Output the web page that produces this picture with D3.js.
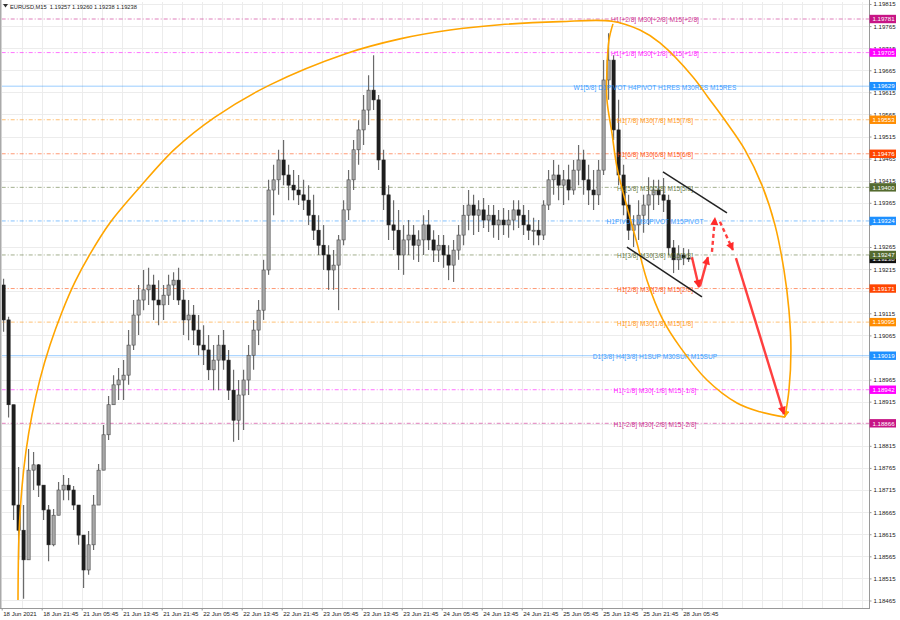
<!DOCTYPE html>
<html><head><meta charset="utf-8">
<script src="https://cdn.jsdelivr.net/npm/d3@7"></script>
<style>
body{margin:0;background:#fff;}
svg{display:block;font-family:"Liberation Sans",Arial,sans-serif;}
</style>
</head><body>
<svg id="chart" width="900" height="620"></svg>
<script>
// ---------------- DATA ----------------
const titleText = "EURUSD,M15  1.19257 1.19260 1.19238 1.19238";
const firstOpen = 1.19179;
// hourly OHLC (open = previous close)
const highs = [1.19193,1.19107,1.18873,1.18767,1.18681,1.18808,1.18801,1.18774,1.18724,1.18681,
1.18672,1.18733,1.18749,1.18742,1.18724,1.18681,1.18613,1.18622,1.18704,1.18774,
1.18862,1.18928,1.18975,1.18991,1.19009,1.19077,1.19145,1.19179,1.19213,1.19218,
1.19202,1.19190,1.19179,1.19202,1.19208,1.19218,1.19168,1.19145,1.19134,1.19111,
1.19088,1.19066,1.19043,1.19066,1.19077,1.19032,1.18987,1.18964,1.18987,1.19043,
1.19100,1.19145,1.19236,1.19417,1.19451,1.19485,1.19507,1.19451,1.19439,1.19428,
1.19417,1.19405,1.19383,1.19337,1.19315,1.19269,1.19258,1.19292,1.19371,1.19439,
1.19507,1.19552,1.19609,1.19654,1.19699,1.19609,1.19485,1.19405,1.19371,1.19349,
1.19315,1.19326,1.19315,1.19303,1.19337,1.19349,1.19303,1.19292,1.19292,1.19269,
1.19281,1.19315,1.19360,1.19394,1.19383,1.19371,1.19376,1.19360,1.19360,1.19349,
1.19353,1.19349,1.19371,1.19371,1.19360,1.19349,1.19331,1.19326,1.19371,1.19439,
1.19462,1.19451,1.19439,1.19451,1.19462,1.19496,1.19485,1.19451,1.19439,1.19462,
1.19688,1.19749,1.19699,1.19598,1.19451,1.19383,1.19337,1.19371,1.19383,1.19423,
1.19417,1.19417,1.19421,1.19383,1.19281,1.19269,1.19263,1.19260];
const lows = [1.19073,1.18879,1.18647,1.18557,1.18469,1.18557,1.18715,1.18699,1.18647,1.18554,
1.18588,1.18665,1.18692,1.18692,1.18670,1.18591,1.18493,1.18523,1.18579,1.18692,
1.18760,1.18828,1.18908,1.18919,1.18919,1.18953,1.19032,1.19066,1.19122,1.19134,
1.19100,1.19088,1.19100,1.19134,1.19145,1.19134,1.19066,1.19054,1.19043,1.19020,
1.18998,1.18964,1.18941,1.18941,1.18987,1.18919,1.18824,1.18828,1.18851,1.18930,
1.18987,1.19043,1.19100,1.19202,1.19337,1.19383,1.19405,1.19371,1.19371,1.19360,
1.19349,1.19315,1.19281,1.19247,1.19213,1.19168,1.19168,1.19122,1.19269,1.19326,
1.19394,1.19451,1.19496,1.19541,1.19575,1.19439,1.19349,1.19281,1.19258,1.19213,
1.19202,1.19247,1.19236,1.19231,1.19247,1.19258,1.19231,1.19231,1.19218,1.19190,
1.19186,1.19236,1.19269,1.19303,1.19292,1.19299,1.19308,1.19299,1.19286,1.19281,
1.19292,1.19286,1.19303,1.19308,1.19292,1.19281,1.19269,1.19269,1.19281,1.19349,
1.19383,1.19371,1.19360,1.19371,1.19383,1.19405,1.19383,1.19360,1.19349,1.19360,
1.19428,1.19598,1.19507,1.19405,1.19337,1.19281,1.19265,1.19281,1.19297,1.19315,
1.19349,1.19360,1.19344,1.19247,1.19206,1.19213,1.19224,1.19231];
const closes = [1.19100,1.18908,1.18681,1.18624,1.18557,1.18760,1.18772,1.18726,1.18670,1.18591,
1.18658,1.18715,1.18726,1.18715,1.18681,1.18613,1.18534,1.18591,1.18681,1.18760,
1.18840,1.18908,1.18953,1.18964,1.18975,1.19043,1.19111,1.19145,1.19168,1.19179,
1.19145,1.19134,1.19156,1.19179,1.19190,1.19145,1.19100,1.19111,1.19077,1.19043,
1.19032,1.18987,1.19009,1.19043,1.19009,1.18941,1.18873,1.18930,1.18964,1.19020,
1.19077,1.19122,1.19213,1.19394,1.19417,1.19462,1.19428,1.19405,1.19394,1.19383,
1.19371,1.19337,1.19303,1.19269,1.19247,1.19213,1.19224,1.19281,1.19349,1.19417,
1.19485,1.19530,1.19575,1.19620,1.19598,1.19462,1.19383,1.19315,1.19303,1.19247,
1.19281,1.19292,1.19269,1.19281,1.19315,1.19281,1.19258,1.19269,1.19247,1.19224,
1.19258,1.19292,1.19337,1.19360,1.19337,1.19349,1.19326,1.19337,1.19315,1.19326,
1.19315,1.19326,1.19349,1.19337,1.19315,1.19303,1.19303,1.19292,1.19360,1.19417,
1.19428,1.19405,1.19417,1.19394,1.19439,1.19462,1.19417,1.19394,1.19383,1.19439,
1.19643,1.19688,1.19530,1.19428,1.19360,1.19303,1.19315,1.19337,1.19360,1.19383,
1.19394,1.19383,1.19371,1.19263,1.19236,1.19247,1.19240,1.19238];

const timeLabels = ["18 Jun 2021","18 Jun 21:45","21 Jun 05:45","21 Jun 13:45","21 Jun 21:45",
"22 Jun 05:45","22 Jun 13:45","22 Jun 21:45","23 Jun 05:45","23 Jun 13:45","23 Jun 21:45",
"24 Jun 05:45","24 Jun 13:45","24 Jun 21:45","25 Jun 05:45","25 Jun 13:45","25 Jun 21:45","28 Jun 05:45"];
const priceTicks = [1.19815,1.19765,1.19715,1.19665,1.19615,1.19565,1.19515,1.19465,1.19415,1.19365,
1.19315,1.19265,1.19215,1.19165,1.19115,1.19065,1.19015,1.18965,1.18915,1.18865,1.18815,1.18765,
1.18715,1.18665,1.18615,1.18565,1.18515,1.18465];

const levelPrices = [1.19781,1.19705,1.19629,1.19553,1.19476,1.19400,1.19324,1.19247,1.19171,1.19095,1.19019,1.18942,1.18866];
const levelNames = ["H1[+2/8] M30[+2/8] M15[+2/8]","H1[+1/8] M30[+1/8] M15[+1/8]",
"W1[5/8] D1PIVOT H4PIVOT H1RES M30RES M15RES","H1[7/8] M30[7/8] M15[7/8]",
"H1[6/8] M30[6/8] M15[6/8]","H1[5/8] M30[5/8] M15[5/8]","H1PIVOT M30PIVOT M15PIVOT",
"H1[3/8] M30[3/8] M15[3/8]","H1[2/8] M30[2/8] M15[2/8]","H1[1/8] M30[1/8] M15[1/8]",
"D1[3/8] H4[3/8] H1SUP M30SUP M15SUP","H1[-1/8] M30[-1/8] M15[-1/8]","H1[-2/8] M30[-2/8] M15[-2/8]"];
const levelColors = ["#c71585","#ff00ff","#1e90ff","#ff8c00","#ff4500","#556b2f","#1e90ff","#556b2f","#ff4500","#ff8c00","#1e90ff","#ff00ff","#c71585"];
const levelSolid = [false,false,true,false,false,false,false,false,false,false,true,false,false];
const bidPrice = 1.19238;

// drawing objects: [M15 bar index, price]
const arcOuter = [[13.04,1.18466],[13.84,1.18613],[16.24,1.18722],[19.44,1.18803],[24.24,1.18885],[30.64,1.18966],
[38.64,1.19043],[48.24,1.19118],[58.64,1.19186],[70.64,1.19249],[86.64,1.19320],[110.64,1.19401],[138.64,1.19487],
[170.64,1.19559],[214.64,1.19632],[274.64,1.19702],[318.64,1.19736],[358.64,1.19756],[398.64,1.19768],
[446.64,1.19775],[488.2,1.19776],[510.6,1.19756],[526.6,1.19727],[553,1.19650],[565,1.19604],[578.6,1.19552],
[594.6,1.19485],[608.2,1.19405],[618.6,1.19315],[625.8,1.19213],[629.8,1.19122],[631.4,1.19032],[629.8,1.18941],
[626.6,1.18880]];
const arcInner = [[489,1.19770],[485.8,1.19733],[484.2,1.19666],[484.2,1.19598],[488.2,1.19523],[492.2,1.19446],
[500.2,1.19356],[508.2,1.19274],[516.2,1.19190],[529,1.19100],[542.6,1.19039],[564.2,1.18964],[588.2,1.18912],
[606.6,1.18892],[626.6,1.18880]];
const channelLines = [[[529,1.19435],[580.2,1.19342]],[[500.2,1.19265],[560.2,1.19152]]];
const solidArrows = [[[552.2,1.19242],[557.8,1.19174]],[[558.6,1.19176],[565,1.19242]],[[587.4,1.19240],[625.8,1.18887]]];
const dashedArrows = [[[568.2,1.19254],[570.6,1.19331]],[[574.6,1.19322],[585,1.19258]]];

// ---------------- CHART ----------------
(function(){
const svg = d3.select("#chart");
const W = 900, H = 620;
const pL = 1.7, pR = 869, pT = 2, pB = 608;
const x = d3.scaleLinear().domain([0, (pR-pL)/1.25]).range([pL, pR]);
const y = d3.scaleLinear().domain([1.184480, 1.198195]).range([pB, pT]);
const FONT = 6.6, AXF = 6.1;

svg.append("rect").attr("width",W).attr("height",H).attr("fill","#fff");
const defs = svg.append("defs");
defs.append("clipPath").attr("id","plot")
  .append("rect").attr("x",pL).attr("y",pT).attr("width",pR-pL).attr("height",pB-pT);
function marker(id, color, w, h){
  defs.append("marker").attr("id",id).attr("viewBox","0 0 10 10").attr("refX",9).attr("refY",5)
    .attr("markerWidth",w).attr("markerHeight",h).attr("orient","auto").attr("markerUnits","userSpaceOnUse")
    .append("path").attr("d","M0,0 L10,5 L0,10 Z").attr("fill",color);
}
marker("arrRed","#ff2a2a",9,8);
marker("arrOrange","#ffa500",8,7);

const plot = svg.append("g").attr("clip-path","url(#plot)");

// grid
plot.append("g").selectAll("line").data(priceTicks).join("line")
  .attr("x1",pL).attr("x2",pR).attr("y1",d=>Math.round(y(d))+0.5).attr("y2",d=>Math.round(y(d))+0.5)
  .attr("stroke","#ececec").attr("stroke-width",1);
const vgrid = d3.range(16, 700, 16);
plot.append("g").selectAll("line").data(vgrid).join("line")
  .attr("x1",d=>Math.round(x(d))+0.5).attr("x2",d=>Math.round(x(d))+0.5).attr("y1",pT).attr("y2",pB)
  .attr("stroke","#ececec").attr("stroke-width",1);

// level lines
plot.append("g").selectAll("line").data(levelPrices).join("line")
  .attr("x1",pL).attr("x2",pR).attr("y1",d=>y(d)).attr("y2",d=>y(d))
  .attr("stroke",(d,i)=>levelColors[i]).attr("stroke-opacity",(d,i)=>levelSolid[i]?0.45:0.55)
  .attr("stroke-width",1).attr("stroke-dasharray",(d,i)=>levelSolid[i]?null:"4,2,1,2");

// candles
const candles = closes.map((c,k)=>{
  const o = k===0 ? firstOpen : closes[k-1];
  return {k, o, c, h: Math.max(highs[k],o,c), l: Math.min(lows[k],o,c)};
});
const cx = d => x(4*d.k + 1.5);
const cg = plot.append("g");
cg.selectAll("line").data(candles).join("line")
  .attr("x1",cx).attr("x2",cx).attr("y1",d=>y(d.h)).attr("y2",d=>y(d.l))
  .attr("stroke","#6a6a6a").attr("stroke-width",1.2);
cg.selectAll("rect").data(candles).join("rect")
  .attr("x",d=>cx(d)-1.6).attr("width",3.2)
  .attr("y",d=>y(Math.max(d.o,d.c))).attr("height",d=>Math.max(1,Math.abs(y(d.o)-y(d.c))))
  .attr("fill",d=>d.c>=d.o?"#a8a8a8":"#1e1e1e").attr("stroke",d=>d.c>=d.o?"#4a4a4a":"#1e1e1e").attr("stroke-width",0.6);

// level texts
plot.append("g").selectAll("text").data(levelPrices).join("text")
  .attr("x",655).attr("y",d=>y(d)+3.4).attr("text-anchor","middle")
  .attr("font-size",FONT).attr("fill",(d,i)=>levelColors[i]).attr("fill-opacity",0.9)
  .text((d,i)=>levelNames[i]);

// drawings
const line = d3.line().x(d=>x(d[0])).y(d=>y(d[1]));
const curve = d3.line().x(d=>x(d[0])).y(d=>y(d[1])).curve(d3.curveCatmullRom.alpha(0.5));
plot.append("path").attr("d",curve(arcOuter)).attr("fill","none").attr("stroke","#ffa500").attr("stroke-width",1.6)
  .attr("marker-end","url(#arrOrange)");
plot.append("path").attr("d",curve(arcInner)).attr("fill","none").attr("stroke","#ffa500").attr("stroke-width",1.6);
plot.append("g").selectAll("path").data(channelLines).join("path").attr("d",line)
  .attr("stroke","#222").attr("stroke-width",1.5).attr("fill","none");
plot.append("g").selectAll("path").data(solidArrows).join("path").attr("d",line)
  .attr("stroke","#ff2a2a").attr("stroke-opacity",0.9).attr("stroke-width",2.4).attr("fill","none")
  .attr("marker-end","url(#arrRed)");
plot.append("g").selectAll("path").data(dashedArrows).join("path").attr("d",line)
  .attr("stroke","#ff2a2a").attr("stroke-opacity",0.9).attr("stroke-width",2.4).attr("fill","none")
  .attr("stroke-dasharray","4,3").attr("marker-end","url(#arrRed)");

// frame
svg.append("line").attr("x1",0.5).attr("x2",0.5).attr("y1",0).attr("y2",pB).attr("stroke","#aaa").attr("stroke-width",2);
svg.append("line").attr("x1",pR+0.5).attr("x2",pR+0.5).attr("y1",0).attr("y2",pB+1).attr("stroke","#999");
svg.append("line").attr("x1",0).attr("x2",pR+1).attr("y1",pB+0.5).attr("y2",pB+0.5).attr("stroke","#999");

// right axis (labels fully covered by a level box are not drawn, as in the terminal)
const covered = p => levelPrices.some(l => Math.abs(y(l)-y(p)) < 4.2);
const ya = d3.axisRight(y).tickValues(priceTicks).tickFormat(d=>covered(d)?"":d3.format(".5f")(d)).tickSize(2).tickPadding(2);
const yg = svg.append("g").attr("transform",`translate(${pR+0.5},0)`).call(ya);
yg.select(".domain").remove();
yg.selectAll("text").attr("font-size",AXF).attr("fill","#222").attr("font-family","Liberation Sans, Arial, sans-serif");
yg.selectAll("line").attr("stroke","#999");

// price boxes (bid under levels)
const boxes = svg.append("g");
function priceBox(p, color){
  const g = boxes.append("g").attr("transform",`translate(${pR+0.5},${y(p)})`);
  g.append("rect").attr("x",0).attr("y",-4.2).attr("width",26.5).attr("height",8.4).attr("fill",color);
  g.append("text").attr("x",3).attr("y",2.2).attr("font-size",AXF).attr("fill","#fff").text(d3.format(".5f")(p));
}
priceBox(bidPrice,"#111");
levelPrices.forEach((p,i)=>priceBox(p, levelColors[i]));

// bottom axis
const xa = d3.axisBottom(x).tickValues(timeLabels.map((d,i)=>32*i)).tickFormat((d,i)=>timeLabels[i]).tickSize(2).tickPadding(1);
const xg = svg.append("g").attr("transform",`translate(0,${pB+0.5})`).call(xa);
xg.select(".domain").remove();
xg.selectAll("text").attr("font-size",AXF).attr("fill","#222").attr("text-anchor","start").attr("dx",1)
  .attr("font-family","Liberation Sans, Arial, sans-serif");
xg.selectAll("line").attr("stroke","#999");

// title
svg.append("path").attr("d","M3,4 L8,4 L5.5,7.5 Z").attr("fill","#333");
svg.append("text").attr("x",10).attr("y",8.5).attr("font-size",5.7).attr("fill","#222").attr("xml:space","preserve").text(titleText);
})();
</script>
</body></html>
